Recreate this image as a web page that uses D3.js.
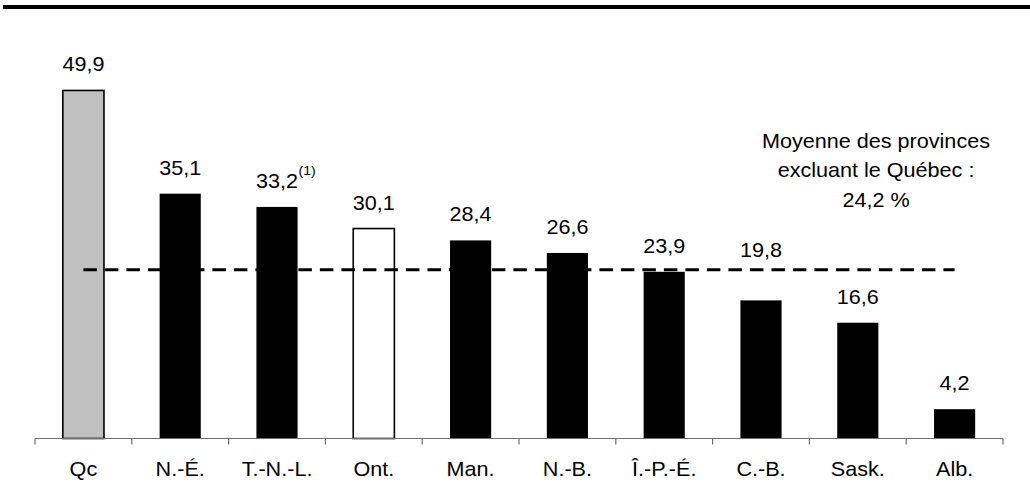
<!DOCTYPE html>
<html>
<head>
<meta charset="utf-8">
<script src="https://cdn.jsdelivr.net/npm/d3@7"></script>
<style>
  html, body { margin: 0; padding: 0; background: #fff; }
  svg { display: block; font-family: "Liberation Sans", Arial, sans-serif; }
</style>
</head>
<body>
<svg id="chart" width="1030" height="500"></svg>
<script>
// Provinces and their values (%)
const categories = ["Qc", "N.-É.", "T.-N.-L.", "Ont.", "Man.", "N.-B.", "Î.-P.-É.", "C.-B.", "Sask.", "Alb."];
const values = [49.9, 35.1, 33.2, 30.1, 28.4, 26.6, 23.9, 19.8, 16.6, 4.2];
const valueLabels = ["49,9", "35,1", "33,2", "30,1", "28,4", "26,6", "23,9", "19,8", "16,6", "4,2"];
const labelNotes = ["", "", "(1)", "", "", "", "", "", "", ""];
// Bar styles: "grey" = Québec, "open" = Ontario, otherwise solid black
const barKinds = ["grey", "solid", "solid", "open", "solid", "solid", "solid", "solid", "solid", "solid"];

// Average of provinces excluding Québec
const average = 24.2;
const averageText = ["Moyenne des provinces", "excluant le Québec :", "24,2 %"];

const svg = d3.select("#chart");
const stretch = 1.08; // horizontal text stretch

const x = d3.scaleBand()
  .domain(categories)
  .range([35, 1003])
  .paddingInner(0.575)
  .paddingOuter(0.2875);

const y = d3.scaleLinear()
  .domain([0, 50])
  .range([438.5, 89.75]);

// Heavy rule at the top
svg.append("rect")
  .attr("x", 3).attr("y", 5)
  .attr("width", 1027).attr("height", 4)
  .attr("fill", "#000");

// Bars
const fills = { grey: "#c0c0c0", open: "#ffffff", solid: "#000000" };
svg.append("g").selectAll("rect")
  .data(categories)
  .join("rect")
  .attr("x", d => x(d))
  .attr("width", x.bandwidth())
  .attr("y", (d, i) => y(values[i]))
  .attr("height", (d, i) => y(0) - y(values[i]))
  .attr("fill", (d, i) => fills[barKinds[i]])
  .attr("stroke", "#000")
  .attr("stroke-width", (d, i) => barKinds[i] === "solid" ? 0 : 1.6);

// Category axis: baseline with ticks between categories
const step = x.step();
const half = x.paddingInner() * step / 2;
const tickXs = categories.map(c => x(c) - half).concat([x(categories[categories.length - 1]) + x.bandwidth() + half]);
const axis = svg.append("g").attr("stroke", "#707070").attr("stroke-width", 1.2);
axis.append("line")
  .attr("x1", tickXs[0]).attr("x2", tickXs[tickXs.length - 1])
  .attr("y1", y(0)).attr("y2", y(0));
axis.selectAll("line.tick")
  .data(tickXs)
  .join("line")
  .attr("class", "tick")
  .attr("x1", d => d).attr("x2", d => d)
  .attr("y1", y(0)).attr("y2", y(0) + 6);

// Category labels
svg.append("g").selectAll("text")
  .data(categories)
  .join("text")
  .attr("transform", d => `translate(${x(d) + x.bandwidth() / 2},476) scale(${stretch},1)`)
  .attr("text-anchor", "middle")
  .attr("font-size", 20)
  .attr("fill", "#000")
  .text(d => d);

// Average line (dashed), from first to last category centre
const avgY = y(average);
svg.append("line")
  .attr("x1", x(categories[0]) + x.bandwidth() / 2)
  .attr("x2", x(categories[categories.length - 1]) + x.bandwidth() / 2)
  .attr("y1", avgY).attr("y2", avgY)
  .attr("stroke", "#000")
  .attr("stroke-width", 3)
  .attr("stroke-dasharray", "13.5 8");

// Value labels above bars; a label that would sit on the average line is lifted above it
const vl = svg.append("g");
categories.forEach((c, i) => {
  const cx = x(c) + x.bandwidth() / 2;
  let by = y(values[i]) - 19;
  if (by > avgY - 13 && by - 15 < avgY + 3) by = avgY - 13;
  const t = vl.append("text")
    .attr("transform", `translate(${cx},${by}) scale(${stretch},1)`)
    .attr("text-anchor", "middle")
    .attr("font-size", 20)
    .attr("fill", "#000")
    .text(valueLabels[i]);
  if (labelNotes[i]) {
    const w = t.node().getComputedTextLength() * stretch;
    vl.append("text")
      .attr("transform", `translate(${cx + w / 2 + 0.5},${by - 13}) scale(${stretch},1)`)
      .attr("font-size", 13)
      .attr("fill", "#000")
      .text(labelNotes[i]);
  }
});

// Average annotation
svg.append("g").selectAll("text")
  .data(averageText)
  .join("text")
  .attr("transform", (d, i) => `translate(876,${147.5 + i * 29.7}) scale(${stretch},1)`)
  .attr("text-anchor", "middle")
  .attr("font-size", 20)
  .attr("fill", "#000")
  .text(d => d);
</script>
</body>
</html>
